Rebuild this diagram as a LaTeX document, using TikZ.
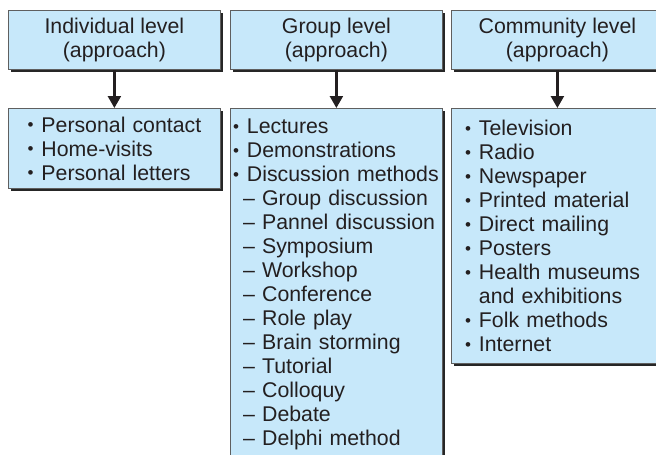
\documentclass[tikz,border=0pt]{standalone}
\usepackage{fontspec}
\setmainfont{Liberation Sans}
\usepackage{tikz}
\usetikzlibrary{arrows.meta,positioning,shadows}
\usepackage{calc}
\definecolor{boxblue}{RGB}{199,232,250}
\definecolor{boxline}{RGB}{95,95,95}
\definecolor{inkgray}{RGB}{35,31,32}
\newcommand{\itm}{\makebox[\widthof{\textbullet}]{\raisebox{0.05em}{\scalebox{0.8}{\textbullet}}}\ }
\newcommand{\subitm}{\hspace*{10.8pt}–\ }
\newcommand{\cont}{\hphantom{\textbullet\ }}

\begin{document}
\begin{tikzpicture}[x=1pt,y=-1pt,
    font=\fontsize{21.3}{24}\selectfont, text=inkgray,
    level/.style={draw=boxline, line width=0.8pt, fill=boxblue, anchor=north west,
        minimum width=212pt, minimum height=59pt, align=center, inner sep=0pt,
        drop shadow={shadow xshift=2.2pt, shadow yshift=-2.2pt, fill=black!85, opacity=1}},
    items/.style n args={3}{level, align=left, inner xsep=#1, text width=#2, minimum height=#3},
    link/.style={-{Triangle[width=13pt,length=12pt]}, line width=2.4pt, draw=inkgray}]
    \useasboundingbox (0,0) rectangle (656,455);
    \clip (0,0) rectangle (656,455);
    % Approaches
    \node[level] (hind) at (8,10) {Individual level\\(approach)};
    \node[level] (hgrp) at (230,10) {Group level\\(approach)};
    \node[level] (hcom) at (451,10) {Community level\\(approach)};
    % Methods
    \node[items={18.5pt}{175pt}{80pt}] (lind) at (8,108)
        {\itm Personal contact\\ \itm Home-visits\\ \itm Personal letters};
    \node[items={2pt}{208pt}{352pt}] (lgrp) at (230,108)
        {\itm Lectures\\ \itm Demonstrations\\ \itm Discussion methods\\
         \subitm Group discussion\\ \subitm Pannel discussion\\ \subitm Symposium\\
         \subitm Workshop\\ \subitm Conference\\ \subitm Role play\\
         \subitm Brain storming\\ \subitm Tutorial\\ \subitm Colloquy\\
         \subitm Debate\\ \subitm Delphi method};
    \node[items={13pt}{186pt}{255pt}] (lcom) at (451,108)
        {\itm Television\\ \itm Radio\\ \itm Newspaper\\ \itm Printed material\\
         \itm Direct mailing\\ \itm Posters\\ \itm Health museums\\
         \cont and exhibitions\\ \itm Folk methods\\ \itm Internet};
    % Arrows
    \draw[link] (hind) -- (lind);
    \draw[link] (hgrp) -- (lgrp);
    \draw[link] (hcom) -- (lcom);
\end{tikzpicture}
\end{document}
